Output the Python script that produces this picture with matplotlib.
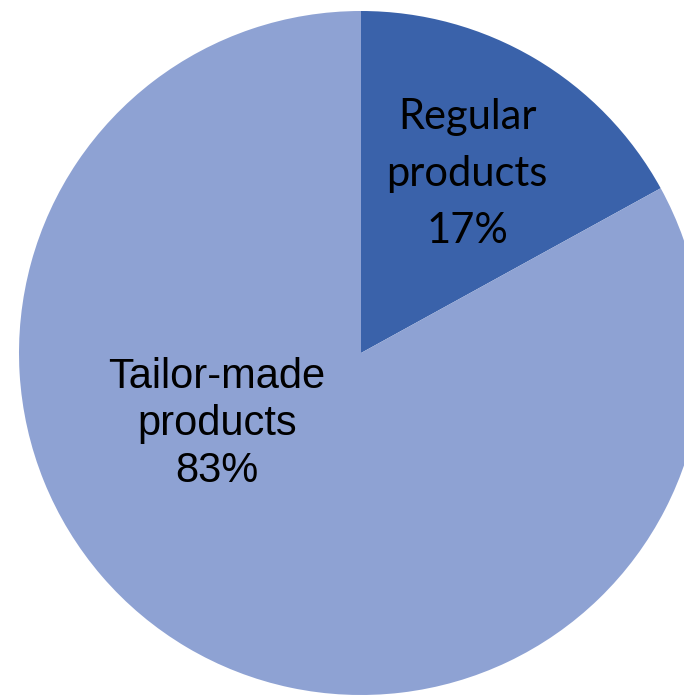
import matplotlib
matplotlib.use("Agg")
import matplotlib.pyplot as plt

# data
categories = ["Regular\nproducts", "Tailor-made\nproducts"]
shares = [17, 83]
colors = ["#3A62AA", "#8EA2D3"]

fig = plt.figure(figsize=(6.84, 6.96), dpi=100)
ax = fig.add_axes([0, 0, 1, 1])

ax.pie(shares, colors=colors, startangle=90, counterclock=False,
       center=(361, 343), radius=342, frame=True,
       wedgeprops=dict(linewidth=0))
ax.set_xlim(0, 684)
ax.set_ylim(0, 696)
ax.axis("off")

# labels
ax.text(467, 522, "%s\n%d%%" % (categories[0], shares[0]), ha="center", va="center",
        fontsize=30, family="Lato", linespacing=1.62, color="black")
ax.text(217, 272, "%s\n%d%%" % (categories[1], shares[1]), ha="center", va="center",
        fontsize=30, family="Liberation Sans", linespacing=1.22, color="black")

fig.savefig("out.png", dpi=100)
